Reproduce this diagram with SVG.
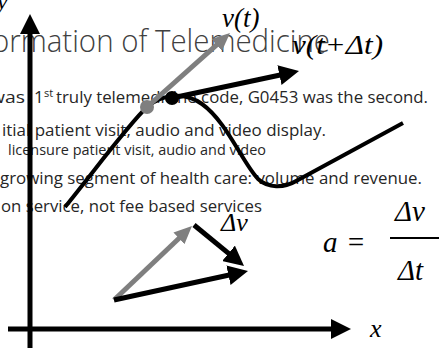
<svg xmlns="http://www.w3.org/2000/svg" width="439" height="348" viewBox="0 0 439 348">
<style>
.title{font-family:"Open Sans","Liberation Sans",sans-serif;font-weight:300;font-size:31px;fill:#404040}
.body{font-family:"Open Sans","Liberation Sans",sans-serif;font-size:17px;fill:#262626}
.small{font-family:"Open Sans","Liberation Sans",sans-serif;font-size:14px;fill:#262626}
.math{font-family:"Liberation Serif","DejaVu Serif",serif;font-style:italic;fill:#000}
.blk{stroke:#000;stroke-width:5;fill:none}
.gry{stroke:#7f7f7f;stroke-width:5;fill:none}
</style>
<defs>
<marker id="hb" markerUnits="userSpaceOnUse" viewBox="0 0 20 20" markerWidth="20" markerHeight="20" refX="2" refY="10" orient="auto"><path d="M0,0 L20,10 L0,20 z" fill="#000"/></marker>
<marker id="hg" markerUnits="userSpaceOnUse" viewBox="0 0 18 16" markerWidth="18" markerHeight="16" refX="2" refY="8" orient="auto"><path d="M0,0 L18,8 L0,16 z" fill="#7f7f7f"/></marker>
</defs>
<g id="text-block">
<text class="title" x="-8" y="52" textLength="338" lengthAdjust="spacingAndGlyphs">ormation of Telemedicine</text>
<text class="body" y="103"><tspan x="-10" textLength="35" lengthAdjust="spacingAndGlyphs">was</tspan><tspan x="34">1</tspan><tspan x="44" dy="-6" font-size="11">st</tspan><tspan x="56" dy="6" textLength="372" lengthAdjust="spacingAndGlyphs">truly telemedicine code, G0453 was the second.</tspan></text>
<text class="body" x="2" y="136" textLength="324" lengthAdjust="spacingAndGlyphs">itial patient visit, audio and video display.</text>
<text class="small" x="8" y="155" textLength="258" lengthAdjust="spacingAndGlyphs">licensure patient visit, audio and video</text>
<text class="body" x="0" y="184" textLength="422" lengthAdjust="spacingAndGlyphs">growing segment of health care: volume and revenue.</text>
<text class="body" x="1" y="212" textLength="261" lengthAdjust="spacingAndGlyphs">on service, not fee based services</text>
</g>
<g id="axes">
<line class="blk" x1="30" y1="348" x2="30" y2="32" marker-end="url(#hb)"/>
<line class="blk" x1="8" y1="329" x2="333" y2="329" marker-end="url(#hb)"/>
<text class="math" x="-3" y="9" font-size="24">y</text>
<text class="math" x="370" y="337" font-size="26">x</text>
</g>
<g id="curve">
<path d="M65,207 C95,170 128,125 147,107 C160,96 182,90 202,104 C227,122 242,162 258,179 C268,188 283,189 298,180 L403,123" stroke="#000" stroke-width="4" fill="none"/>
</g>
<g id="connectors">
<line class="gry" x1="147" y1="107" x2="218.1" y2="43.6" marker-end="url(#hg)"/>
<line class="blk" x1="172" y1="98" x2="281.4" y2="74.7" marker-end="url(#hb)"/>
<line class="gry" x1="114" y1="300" x2="180.4" y2="237" marker-end="url(#hg)"/>
<line class="blk" x1="194" y1="225" x2="230.1" y2="254.6" marker-end="url(#hb)"/>
<line class="blk" x1="114" y1="300" x2="230.4" y2="274.8" marker-end="url(#hb)"/>
</g>
<g id="point-t"><circle cx="147" cy="107" r="7" fill="#7f7f7f"/></g>
<g id="point-t2"><circle cx="172" cy="98" r="7" fill="#000"/></g>
<g id="labels">
<text class="math" x="222" y="27" font-size="27">v(t)</text>
<text class="math" x="292" y="54" font-size="27" textLength="91" lengthAdjust="spacingAndGlyphs">v(t+Δt)</text>
<text class="math" x="221" y="231" font-size="26">Δv</text>
</g>
<g id="formula">
<text class="math" x="323" y="252" font-size="29">a</text>
<text class="math" x="346" y="252" font-size="29" font-style="normal">=</text>
<text class="math" x="395" y="221" font-size="29">Δv</text>
<line x1="390" y1="238" x2="439" y2="238" stroke="#000" stroke-width="2"/>
<text class="math" x="398" y="280" font-size="29">Δt</text>
</g>
</svg>
